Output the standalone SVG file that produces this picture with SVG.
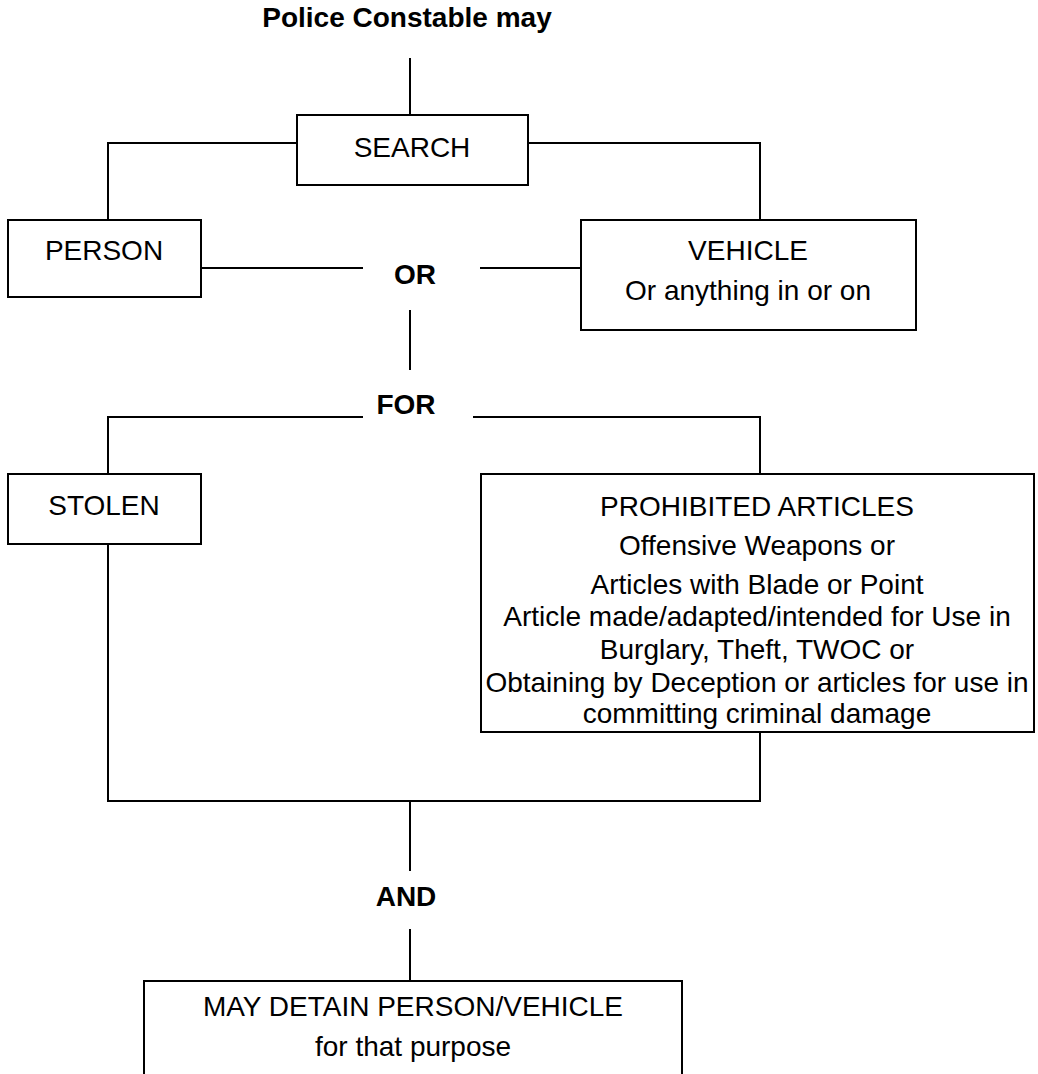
<svg xmlns="http://www.w3.org/2000/svg" width="1038" height="1074" viewBox="0 0 1038 1074">
<style>
.box{fill:#fff;stroke:#000;stroke-width:2}
.ln{fill:none;stroke:#000;stroke-width:2}
.t{font-family:"Liberation Sans",Arial,sans-serif;font-size:28px;fill:#000;text-anchor:middle}
.b{font-weight:bold}
</style>
<rect width="1038" height="1074" fill="#fff"/>
<g id="connectors">
<path class="ln" d="M410 58V115"/>
<path class="ln" d="M297 143H108V220"/>
<path class="ln" d="M528 143H760V220"/>
<path class="ln" d="M201 268H363"/>
<path class="ln" d="M480 268H581"/>
<path class="ln" d="M410 310V370"/>
<path class="ln" d="M363 417H108V474"/>
<path class="ln" d="M473 417H760V474"/>
<path class="ln" d="M108 544V801H760V732"/>
<path class="ln" d="M410 801V871"/>
<path class="ln" d="M410 929V981"/>
</g>
<g id="title"><text class="t b" x="407" y="27">Police Constable may</text></g>
<g id="search"><rect class="box" x="297" y="115" width="231" height="70"/><text class="t" x="412" y="157">SEARCH</text></g>
<g id="person"><rect class="box" x="8" y="220" width="193" height="77"/><text class="t" x="104" y="260">PERSON</text></g>
<g id="or"><text class="t b" x="415" y="284">OR</text></g>
<g id="vehicle"><rect class="box" x="581" y="220" width="335" height="110"/><text class="t" x="748" y="260">VEHICLE</text><text class="t" x="748" y="300">Or anything in or on</text></g>
<g id="for"><text class="t b" x="406" y="414">FOR</text></g>
<g id="stolen"><rect class="box" x="8" y="474" width="193" height="70"/><text class="t" x="104" y="515">STOLEN</text></g>
<g id="prohibited"><rect class="box" x="481" y="474" width="553" height="258"/>
<text class="t" x="757" y="516">PROHIBITED ARTICLES</text>
<text class="t" x="757" y="555">Offensive Weapons or</text>
<text class="t" x="757" y="594">Articles with Blade or Point</text>
<text class="t" x="757" y="626">Article made/adapted/intended for Use in</text>
<text class="t" x="757" y="659">Burglary, Theft, TWOC or</text>
<text class="t" x="757" y="692">Obtaining by Deception or articles for use in</text>
<text class="t" x="757" y="723">committing criminal damage</text>
</g>
<g id="and"><text class="t b" x="406" y="906">AND</text></g>
<g id="detain"><rect class="box" x="144" y="981" width="538" height="130"/><text class="t" x="413" y="1016">MAY DETAIN PERSON/VEHICLE</text><text class="t" x="413" y="1056">for that purpose</text></g>
</svg>
